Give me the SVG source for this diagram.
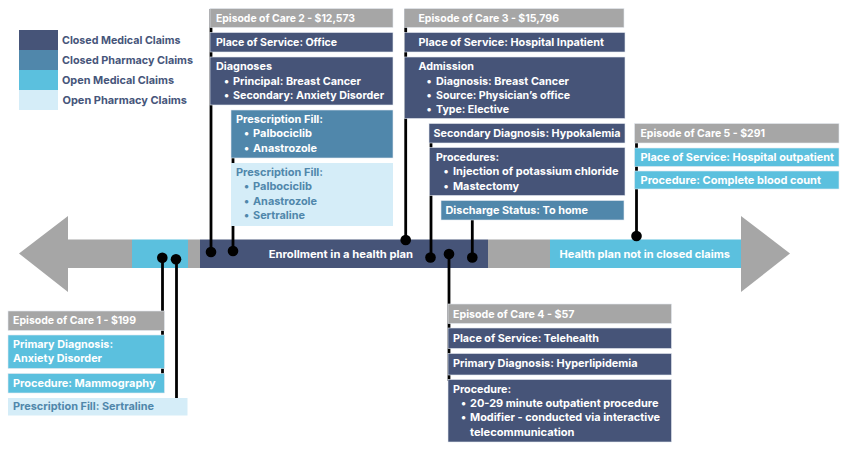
<svg xmlns="http://www.w3.org/2000/svg" width="847" height="451" viewBox="0 0 847 451">
<style>
text{font-family:"Inter","Noto Sans","Liberation Sans",sans-serif;font-weight:700;font-size:10.8px;fill:#fff}
.lg{fill:#46557a}
.lt{fill:#5087ab}
rect.b{stroke:#e4e9f0;stroke-width:.6}
.dk{fill:#465478}.md{fill:#5087ab}.cy{fill:#5bc0de}.li{fill:#d5edf8}.gr{fill:#a6a6a6}
#connectors line{stroke:#000;stroke-width:2.8}
#connectors circle{fill:#000}
</style>
<rect width="847" height="451" fill="#fff"/>
<g id="legend">
<rect x="19" y="30" width="39" height="20" class="dk"/><rect x="19" y="50" width="39" height="20" class="md"/><rect x="19" y="70" width="39" height="20" class="cy"/><rect x="19" y="90" width="39" height="20" class="li"/>
<text class="lg" x="62" y="44" textLength="118.500" lengthAdjust="spacingAndGlyphs">Closed Medical Claims</text>
<text class="lg" x="62" y="64" textLength="131" lengthAdjust="spacingAndGlyphs">Closed Pharmacy Claims</text>
<text class="lg" x="62" y="83.700" textLength="112" lengthAdjust="spacingAndGlyphs">Open Medical Claims</text>
<text class="lg" x="62.500" y="103.500" textLength="124.500" lengthAdjust="spacingAndGlyphs">Open Pharmacy Claims</text>
</g>
<g id="timeline">
<polygon class="gr" points="19,253.500 68,216 68,239.500 132,239.500 132,268 68,268 68,292"/>
<rect x="132" y="239.500" width="56" height="28.500" class="cy"/>
<rect x="188" y="239.500" width="12" height="28.500" class="gr"/>
<rect x="200" y="239.500" width="288" height="28.500" class="dk"/>
<rect x="488" y="239.500" width="62" height="28.500" class="gr"/>
<rect x="550" y="239.500" width="191" height="28.500" class="cy"/>
<polygon class="gr" points="741,216 790,253.500 741,292"/>
<text x="268.700" y="258" textLength="144.300" lengthAdjust="spacingAndGlyphs">Enrollment in a health plan</text>
<text x="559.500" y="257.500" textLength="170.500" lengthAdjust="spacingAndGlyphs">Health plan not in closed claims</text>
</g>
<g id="connectors">
<line x1="211" y1="9" x2="211" y2="252"/><circle cx="211" cy="252" r="5.300"/>
<line x1="233" y1="158" x2="233" y2="251"/><circle cx="233" cy="251" r="5.300"/>
<line x1="162.500" y1="258" x2="162.500" y2="380"/><circle cx="162.300" cy="257.700" r="5.300"/>
<line x1="176.500" y1="259" x2="176.500" y2="400"/><circle cx="176" cy="259.300" r="5.300"/>
<line x1="405.700" y1="9" x2="405.700" y2="240"/><circle cx="405.700" cy="240" r="5.300"/>
<line x1="431" y1="124" x2="431" y2="257.500"/><circle cx="430.500" cy="257.500" r="5.300"/>
<line x1="472.300" y1="201" x2="472.300" y2="257.500"/><circle cx="472.300" cy="257.500" r="5.300"/>
<line x1="449" y1="254" x2="449" y2="381"/><circle cx="449" cy="254" r="5.300"/>
<line x1="636.500" y1="124" x2="636.500" y2="236"/><circle cx="636.500" cy="236" r="5.300"/>
</g>
<g id="episode-1">
<rect class="b gr" x="8" y="311" width="156.500" height="19.500"/>
<text x="13" y="324" textLength="123" lengthAdjust="spacingAndGlyphs">Episode of Care 1 - $199</text>
<rect class="b cy" x="8" y="335" width="156.500" height="33.500"/>
<text x="13" y="348" textLength="100" lengthAdjust="spacingAndGlyphs">Primary Diagnosis:</text>
<text x="13" y="362" textLength="89" lengthAdjust="spacingAndGlyphs">Anxiety Disorder</text>
<rect class="b cy" x="8" y="373.500" width="156.500" height="19.500"/>
<text x="13" y="386.500" textLength="142.500" lengthAdjust="spacingAndGlyphs">Procedure: Mammography</text>
<rect class="li" x="8" y="398" width="179.500" height="17.500"/>
<text class="lt" x="13" y="410" textLength="141" lengthAdjust="spacingAndGlyphs">Prescription Fill: Sertraline</text>
</g>
<g id="episode-2">
<rect class="b gr" x="210" y="8.500" width="183" height="19"/>
<text x="216" y="21.700" textLength="139" lengthAdjust="spacingAndGlyphs">Episode of Care 2 - $12,573</text>
<rect class="b dk" x="210" y="32.500" width="183" height="19.500"/>
<text x="216" y="45.700" textLength="121" lengthAdjust="spacingAndGlyphs">Place of Service: Office</text>
<rect class="b dk" x="210" y="57" width="183" height="48"/>
<text x="216" y="70" textLength="56" lengthAdjust="spacingAndGlyphs">Diagnoses</text>
<text x="224" y="84.500">•</text><text x="233" y="84.500" textLength="128" lengthAdjust="spacingAndGlyphs">Principal: Breast Cancer</text>
<text x="224" y="98.500">•</text><text x="233" y="98.500" textLength="151" lengthAdjust="spacingAndGlyphs">Secondary: Anxiety Disorder</text>
<rect class="b md" x="231" y="110" width="162" height="48"/>
<text x="236" y="123" textLength="87" lengthAdjust="spacingAndGlyphs">Prescription Fill:</text>
<text x="244" y="137">•</text><text x="253" y="137" textLength="59" lengthAdjust="spacingAndGlyphs">Palbociclib</text>
<text x="244" y="151.500">•</text><text x="253" y="151.500" textLength="64" lengthAdjust="spacingAndGlyphs">Anastrozole</text>
<rect class="li" x="231" y="163" width="162" height="63"/>
<text class="lt" x="236" y="176" textLength="87" lengthAdjust="spacingAndGlyphs">Prescription Fill:</text>
<text class="lt" x="244" y="190">•</text><text class="lt" x="253" y="190" textLength="59" lengthAdjust="spacingAndGlyphs">Palbociclib</text>
<text class="lt" x="244" y="204.500">•</text><text class="lt" x="253" y="204.500" textLength="64" lengthAdjust="spacingAndGlyphs">Anastrozole</text>
<text class="lt" x="244" y="219">•</text><text class="lt" x="253" y="219" textLength="52" lengthAdjust="spacingAndGlyphs">Sertraline</text>
</g>
<g id="episode-3">
<rect class="b gr" x="404.500" y="8.500" width="219.500" height="19"/>
<text x="418.500" y="21.700" textLength="140.500" lengthAdjust="spacingAndGlyphs">Episode of Care 3 - $15,796</text>
<rect class="b dk" x="404.500" y="32.500" width="220.500" height="19.500"/>
<text x="418.500" y="45.700" textLength="185.500" lengthAdjust="spacingAndGlyphs">Place of Service: Hospital Inpatient</text>
<rect class="b dk" x="404.500" y="57" width="220.500" height="61.500"/>
<text x="418.500" y="70" textLength="55.500" lengthAdjust="spacingAndGlyphs">Admission</text>
<text x="426.500" y="84.500">•</text><text x="436" y="84.500" textLength="133" lengthAdjust="spacingAndGlyphs">Diagnosis: Breast Cancer</text>
<text x="426.500" y="99">•</text><text x="436" y="99" textLength="134" lengthAdjust="spacingAndGlyphs">Source: Physician’s office</text>
<text x="426.500" y="113">•</text><text x="436" y="113" textLength="73" lengthAdjust="spacingAndGlyphs">Type: Elective</text>
<rect class="b dk" x="429" y="123.500" width="196" height="19.500"/>
<text x="433.500" y="137" textLength="187" lengthAdjust="spacingAndGlyphs">Secondary Diagnosis: Hypokalemia</text>
<rect class="b dk" x="429.500" y="147.500" width="195.500" height="48"/>
<text x="436" y="161" textLength="63" lengthAdjust="spacingAndGlyphs">Procedures:</text>
<text x="443.500" y="175">•</text><text x="453" y="175" textLength="165.500" lengthAdjust="spacingAndGlyphs">Injection of potassium chloride</text>
<text x="443.500" y="189.500">•</text><text x="453" y="189.500" textLength="66" lengthAdjust="spacingAndGlyphs">Mastectomy</text>
<rect class="b md" x="441" y="200.500" width="183" height="19.500"/>
<text x="445.500" y="214" textLength="142.500" lengthAdjust="spacingAndGlyphs">Discharge Status: To home</text>
</g>
<g id="episode-4">
<rect class="b gr" x="448" y="304" width="223.500" height="19.500"/>
<text x="453" y="317.500" textLength="121.500" lengthAdjust="spacingAndGlyphs">Episode of Care 4 - $57</text>
<rect class="b dk" x="448" y="328" width="223.500" height="20.500"/>
<text x="453" y="341.500" textLength="146" lengthAdjust="spacingAndGlyphs">Place of Service: Telehealth</text>
<rect class="b dk" x="448" y="353.500" width="223.500" height="21.500"/>
<text x="453" y="367" textLength="184.500" lengthAdjust="spacingAndGlyphs">Primary Diagnosis: Hyperlipidemia</text>
<rect class="b dk" x="448" y="379.500" width="223.500" height="62.500"/>
<text x="453" y="393" textLength="58" lengthAdjust="spacingAndGlyphs">Procedure:</text>
<text x="461" y="407">•</text><text x="470" y="407" textLength="188.500" lengthAdjust="spacingAndGlyphs">20-29 minute outpatient procedure</text>
<text x="461" y="421">•</text><text x="470" y="421" textLength="190" lengthAdjust="spacingAndGlyphs">Modifier - conducted via interactive</text>
<text x="470" y="435.500" textLength="104.500" lengthAdjust="spacingAndGlyphs">telecommunication</text>
</g>
<g id="episode-5">
<rect class="b gr" x="634.500" y="123.500" width="204.500" height="19.500"/>
<text x="640.500" y="137" textLength="124.500" lengthAdjust="spacingAndGlyphs">Episode of Care 5 - $291</text>
<rect class="b cy" x="634.500" y="148" width="204.500" height="18.500"/>
<text x="640.500" y="161" textLength="193.500" lengthAdjust="spacingAndGlyphs">Place of Service: Hospital outpatient</text>
<rect class="b cy" x="634.500" y="171" width="204.500" height="18"/>
<text x="640.500" y="184" textLength="180.500" lengthAdjust="spacingAndGlyphs">Procedure: Complete blood count</text>
</g>
</svg>
